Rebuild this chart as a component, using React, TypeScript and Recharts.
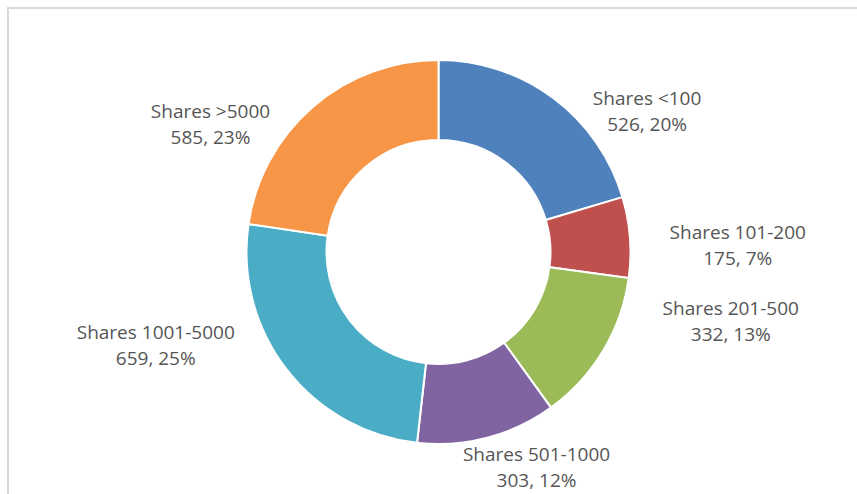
import { PieChart, Pie, Cell } from "recharts";

const categories = [
  "Shares <100",
  "Shares 101-200",
  "Shares 201-500",
  "Shares 501-1000",
  "Shares 1001-5000",
  "Shares >5000",
];
const holders = [526, 175, 332, 303, 659, 585];
const percentLabels = ["20%", "7%", "13%", "12%", "25%", "23%"];
const colors = ["#4F81BD", "#C0504D", "#9BBB59", "#8064A2", "#4BACC6", "#F79646"];

const data = categories.map((name, i) => ({
  name,
  value: holders[i],
  pct: percentLabels[i],
}));

const RAD = Math.PI / 180;

function renderLabel(props: any) {
  const { cx, cy, midAngle, index } = props;
  // angle clockwise from 12 o'clock, pushed toward the horizontal like Excel's best fit
  const theta = 90 - midAngle;
  const phi = theta + 20 * Math.sin(2 * theta * RAD);
  const s = Math.sin(phi * RAD);
  const c = Math.cos(phi * RAD);
  const r = 194 + 106 * s * s - 26 * c;
  const x = cx + r * s;
  const y = cy - r * c;
  const d = data[index];
  return (
    <text
      x={x}
      y={y}
      textAnchor="middle"
      fill="#555555"
      fontFamily="'Open Sans', sans-serif"
      fontSize={19}
    >
      <tspan x={x} y={y - 6}>
        {d.name}
      </tspan>
      <tspan x={x} y={y + 20}>
        {`${d.value}, ${d.pct}`}
      </tspan>
    </text>
  );
}

export default function App() {
  return (
    <div
      style={{
        position: "absolute",
        left: 0,
        top: 0,
        width: 857,
        height: 494,
        overflow: "hidden",
        background: "#fff",
      }}
    >
      <div
        style={{
          position: "absolute",
          left: 7,
          top: 7,
          width: 900,
          height: 600,
          border: "2px solid #d9d9d9",
        }}
      />
      <div style={{ position: "absolute", left: 0, top: 0 }}>
        <PieChart width={857} height={494} margin={{ top: 0, right: 0, bottom: 0, left: 0 }}>
          <Pie
            data={data}
            dataKey="value"
            nameKey="name"
            cx={438.5}
            cy={252}
            innerRadius={112}
            outerRadius={192}
            startAngle={90}
            endAngle={-270}
            stroke="#ffffff"
            strokeWidth={2}
            label={renderLabel}
            labelLine={false}
            isAnimationActive={false}
          >
            {data.map((d, i) => (
              <Cell key={d.name} fill={colors[i]} />
            ))}
          </Pie>
        </PieChart>
      </div>
    </div>
  );
}
